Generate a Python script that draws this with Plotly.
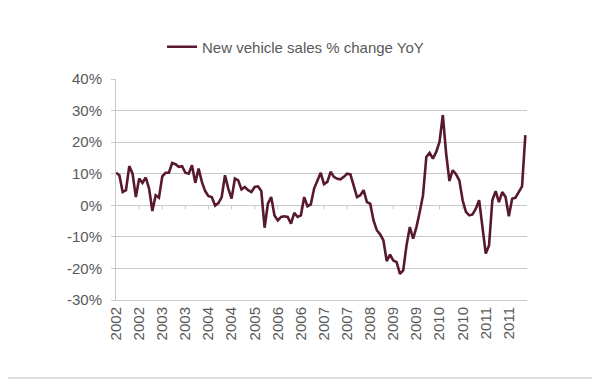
import plotly.graph_objects as go
import pandas as pd

# Monthly categories, Jan 2002 onward
months = [d.strftime("%b %Y") for d in pd.date_range("2002-01-01", periods=125, freq="MS")]

sales_yoy = [
    10.3, 9.5, 4.2, 4.8, 12.4, 10.0, 2.6, 8.5, 7.1, 8.8, 5.3, -1.8,
    3.2, 2.4, 9.2, 10.3, 10.3, 13.4, 13.0, 12.2, 12.4, 10.3, 10.0, 12.7,
    7.1, 11.6, 7.4, 4.5, 2.9, 2.6, -0.1, 0.7, 2.6, 9.5, 5.3, 2.1,
    8.5, 7.9, 5.0, 5.8, 4.8, 4.2, 5.8, 6.0, 4.5, -7.1, 0.5, 2.6,
    -3.2, -4.8, -3.7, -3.5, -3.7, -5.8, -2.4, -3.7,
    -3.2, 2.6, -0.3, 0.3, 5.3, 7.7, 10.3, 6.7, 7.4, 10.6, 9.0, 8.4,
    8.2, 9.0, 10.0, 9.8, 6.3, 2.6, 3.2, 4.8, 1.0, 0.5, -4.8, -7.9,
    -9.2, -11.1, -17.7, -15.6, -17.5, -18.0, -21.7, -20.6, -12.7, -6.9, -10.6, -6.9,
    -2.1, 3.2, 15.3, 16.6, 14.8, 16.9, 20.1, 28.6, 16.4, 7.7, 11.1, 9.8,
    7.9, 1.6, -2.1, -3.2, -2.9, -1.1, 1.6, -6.9, -15.3, -12.7, 1.6, 4.5,
    1.0, 4.2, 2.6, -3.5, 2.1, 2.4, 4.2, 6.0, 22.2,
]

tick_idx = list(range(0, 120, 7))
tick_vals = [months[i] for i in tick_idx]
tick_text = [m.split(" ")[1] for m in tick_vals]

y_ticks = [-30, -20, -10, 0, 10, 20, 30, 40]
y_tick_text = ["-30%", "-20%", "-10%", "0%", "10%", "20%", "30%", "40%"]

LINE = "#581830"
GRID = "#c9c9c9"
TXT = "#595959"

# page has an 8px body margin; margins below compensate for it
ML, MT, MR, MB = 108, 71, 81, 88
PW, PH = 600 - ML - MR, 380 - MT - MB

fig = go.Figure()
fig.add_trace(go.Scatter(
    x=months, y=sales_yoy, mode="lines",
    name="New vehicle sales % change YoY",
    line=dict(color=LINE, width=2.6),
))

# small tick marks on the 0% line (Excel axis crossing)
shapes = []
for tv in tick_vals[1:]:
    shapes.append(dict(type="line", xref="x", yref="y", x0=tv, x1=tv, y0=0, y1=-1.3,
                       line=dict(color=GRID, width=1), layer="below"))
# outer frame of the picture (only right and bottom edges fall inside the page)
shapes.append(dict(type="rect", xref="paper", yref="paper",
                   x0=(-7 - ML) / PW, x1=(590 - ML) / PW,
                   y0=(PH - (370 - MT)) / PH, y1=(PH + MT + 7) / PH,
                   line=dict(color="#d4d4d4", width=1.5), fillcolor="rgba(0,0,0,0)"))

fig.update_layout(
    width=600, height=380,
    margin=dict(l=ML, r=MR, t=MT, b=MB, autoexpand=False),
    paper_bgcolor="white", plot_bgcolor="white",
    font=dict(family="Liberation Sans, Arial, sans-serif", size=15, color=TXT),
    showlegend=True,
    legend=dict(orientation="h", x=0.112, xanchor="left", y=1.145, yanchor="middle",
                font=dict(size=15, color=TXT), bgcolor="rgba(0,0,0,0)",
                itemwidth=30),
    shapes=shapes,
)
fig.update_xaxes(
    type="category", categoryorder="array", categoryarray=months,
    range=[-0.02, 124.5], automargin=False,
    tickvals=tick_vals, ticktext=tick_text, tickangle=-90,
    showgrid=False, showline=True, linecolor=GRID, linewidth=1,
    ticks="", zeroline=False,
    tickfont=dict(size=15, color=TXT),
)
fig.update_yaxes(
    range=[-30, 40], tickvals=y_ticks, ticktext=y_tick_text, automargin=False,
    showgrid=True, gridcolor=GRID, gridwidth=1,
    showline=True, linecolor=GRID, linewidth=1,
    ticks="outside", ticklen=4, tickcolor=GRID,
    zeroline=True, zerolinecolor=GRID, zerolinewidth=1,
    tickfont=dict(size=15, color=TXT),
    ticklabelstandoff=6,
)

fig.write_html("out.html")
